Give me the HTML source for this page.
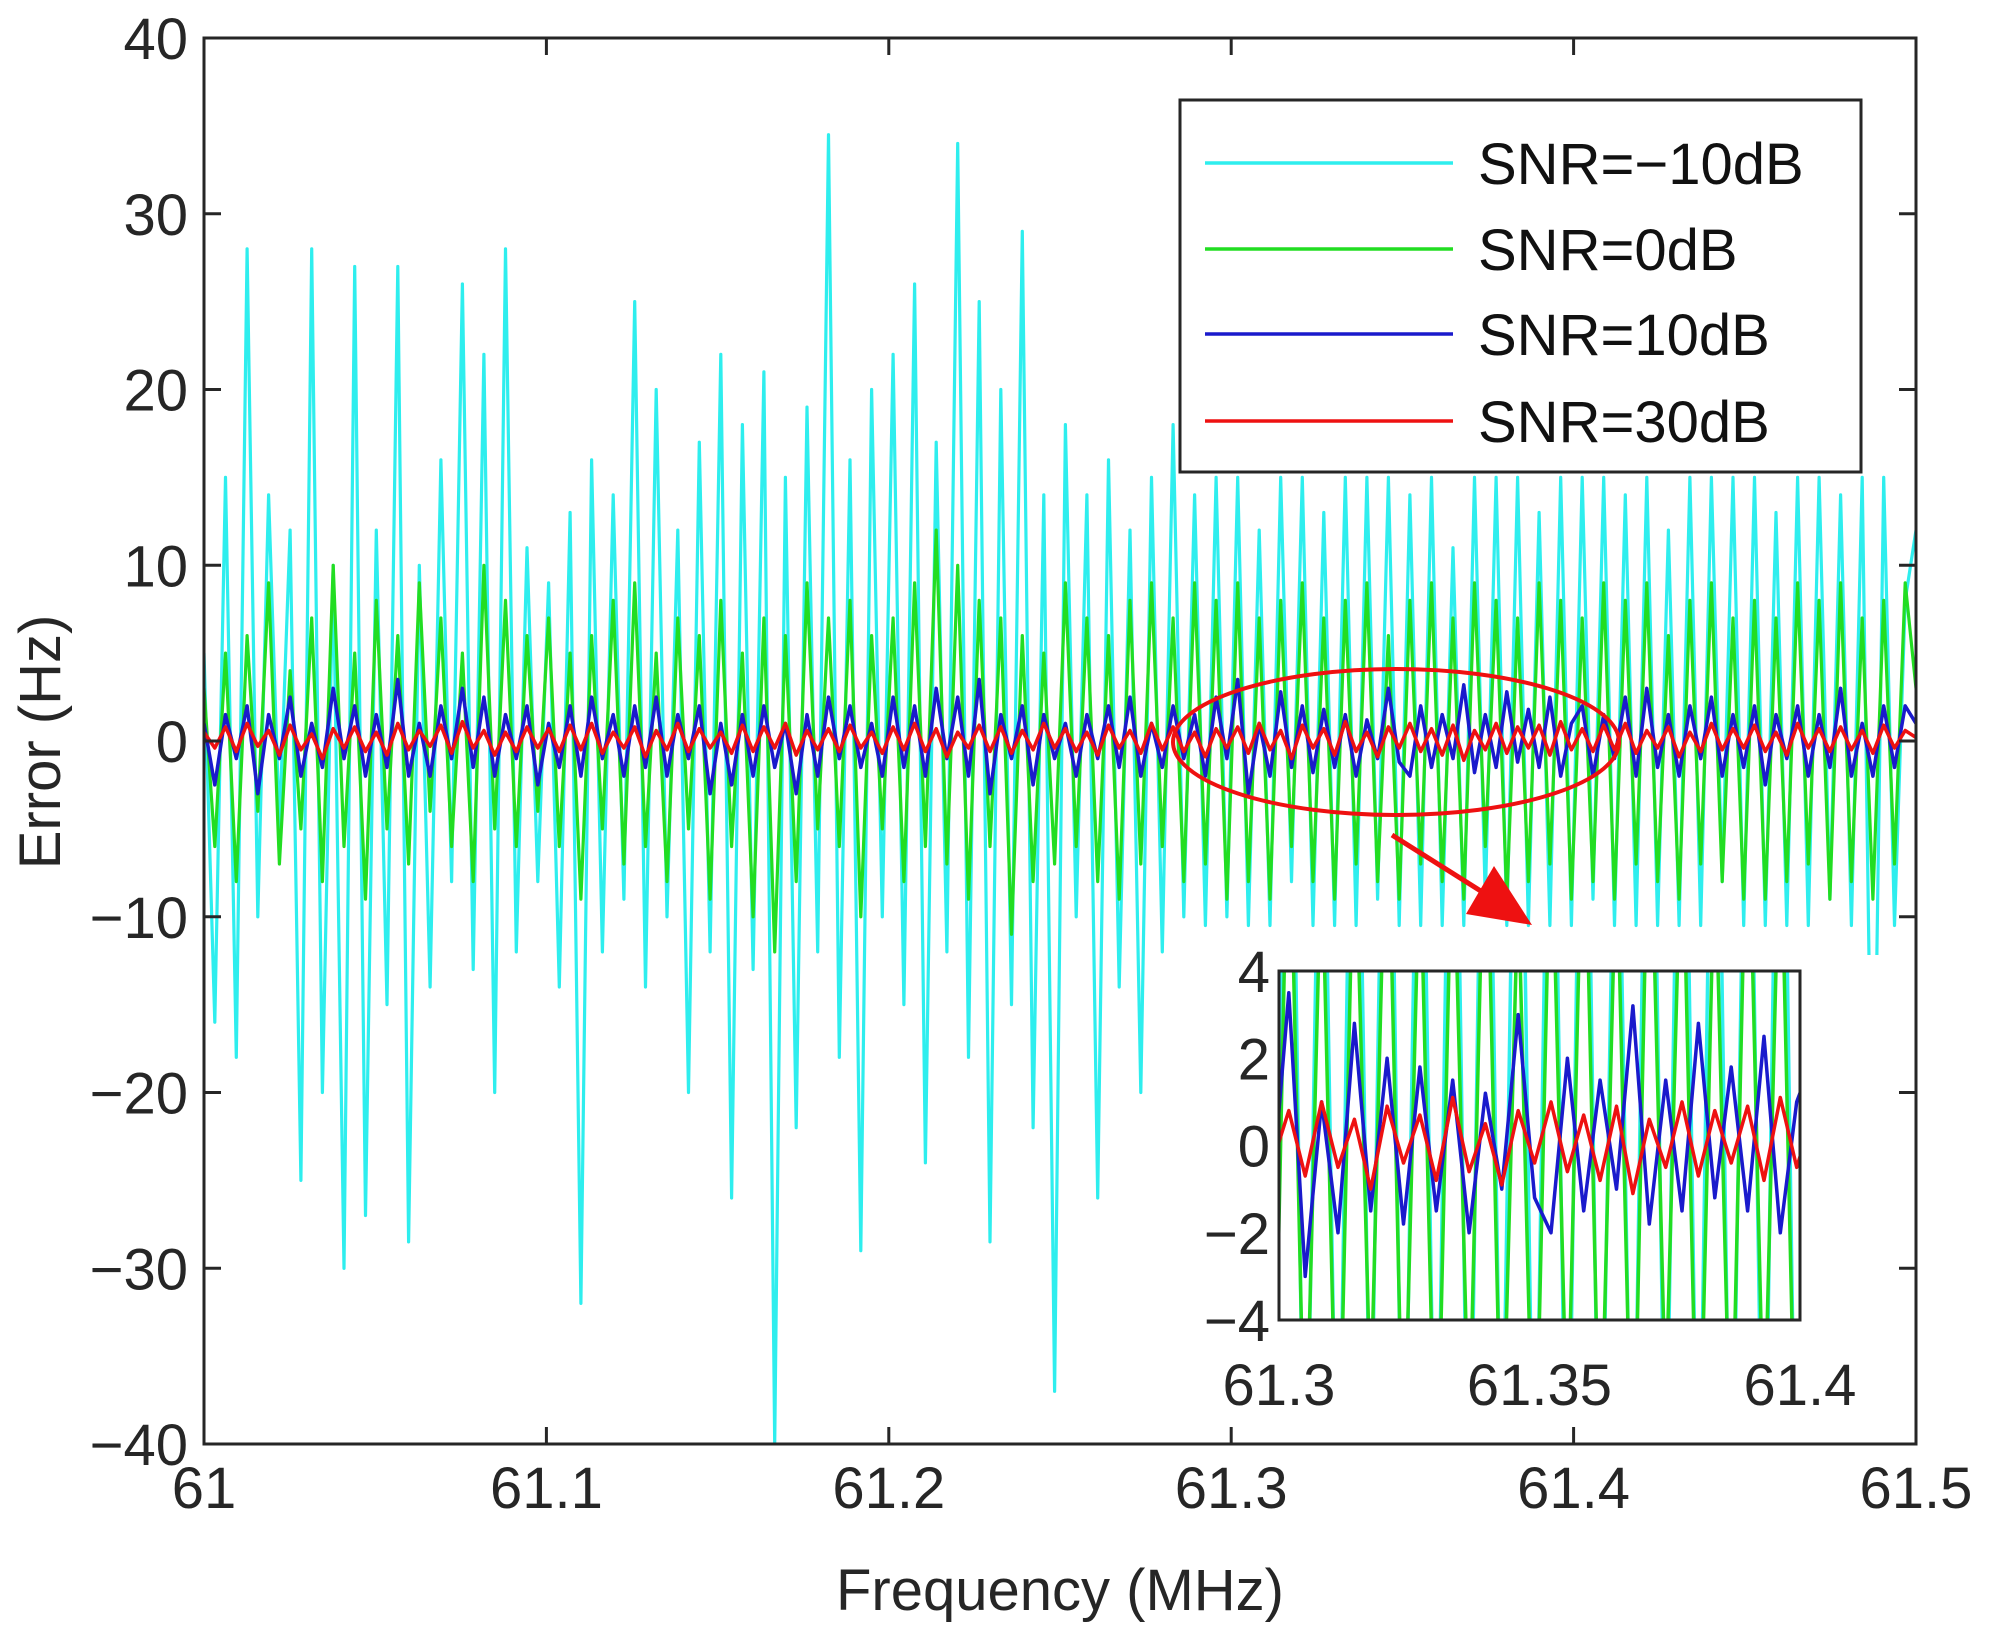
<!DOCTYPE html>
<html><head><meta charset="utf-8">
<style>
html,body{margin:0;padding:0;background:#fff;overflow:hidden;width:1999px;height:1642px;}
svg{display:block;font-family:"Liberation Sans",Arial,sans-serif;}
</style></head>
<body>
<svg id="chart" width="1999" height="1642" viewBox="0 0 1999 1642" xmlns="http://www.w3.org/2000/svg">
<defs>
<clipPath id="mainClip"><rect x="204" y="38" width="1712" height="1406"/></clipPath>
<clipPath id="insetClip"><rect x="1279" y="971" width="521" height="349"/></clipPath>
</defs>
<rect x="0" y="0" width="1999" height="1642" fill="#fff"/>
<g id="mainSeries" clip-path="url(#mainClip)"></g>
<g id="mainAxes"></g>
<g id="legend"></g>
<g id="annot"></g>
<g id="inset"></g>
</svg>
<script>
const categoriesX = [61, 61.5];
const xTickLabels = ["61","61.1","61.2","61.3","61.4","61.5"];
const xTickValues = [61,61.1,61.2,61.3,61.4,61.5];
const yTickValues = [40,30,20,10,0,-10,-20,-30,-40];
const insetXTicks = [61.3,61.35,61.4];
const insetXTickLabels = ["61.3","61.35","61.4"];
const insetYTicks = [4,2,0,-2,-4];
const seriesNames = ["SNR=\u221210dB","SNR=0dB","SNR=10dB","SNR=30dB"];
const seriesColors = ["#2eeeee","#22dd22","#1a1acc","#ee1111"];

const cyanValues = [5,-16,15,-18,28,-10,14,-5,12,-25,28,-20,10,-30,27,-27,
12,-15,27,-28.5,10,-14,16,-8,26,-13,22,-20,28,-12,11,-8,
9,-14,13,-32,16,-12,14,-9,25,-14,20,-10,12,-20,17,-12,
22,-26,18,-13,21,-40,15,-22,19,-12,34.5,-18,16,-29,20,-10,
22,-15,26,-24,17,-12,34,-18,25,-28.5,20,-15,29,-22,14,-37,
18,-10,14,-26,16,-14,12,-20,15,-12,18,-10,14,-10.5,15,-10,
15,-10.5,12,-10.5,15,-8,15,-10.5,13,-10.5,15,-10.5,15,-9,15,-10.5,
14,-10.5,15,-10.5,11,-10.5,15,-9,15,-10.5,15,-10.5,13,-10.5,15,-10.5,
15,-9,15,-10.5,14,-10.5,15,-10.5,12,-10.5,15,-10.5,15,-8,15,-10.5,
15,-10.5,13,-10.5,15,-10.5,15,-9,14,-10.5,15,-28,15,-10.5,8,12];
const greenValues = [3,-6,5,-8,6,-4,9,-7,4,-5,7,-8,10,-6,5,-9,
8,-5,6,-7,9,-4,7,-6,5,-8,10,-5,8,-6,6,-4,
7,-6,5,-9,6,-5,8,-7,9,-6,5,-8,7,-5,6,-9,
8,-6,5,-10,7,-12,6,-8,9,-5,7,-6,8,-10,6,-5,
7,-8,9,-6,12,-7,10,-9,8,-6,7,-11,6,-8,5,-7,
9,-6,7,-8,6,-9,8,-7,9,-6,7,-8,9,-7,8,-9,
9,-8,7,-9,8,-6,9,-8,7,-9,8,-7,9,-8,6,-9,
8,-7,9,-8,7,-9,9,-6,8,-9,7,-8,9,-7,8,-9,
7,-8,9,-9,8,-7,9,-8,6,-9,8,-7,9,-8,7,-9,
8,-9,7,-8,9,-7,8,-9,9,-8,7,-9,8,-7,9,3];
const blueValues = [1,-2.5,1.5,-1,2,-3,1.5,-1,2.5,-2,1,-1.5,3,-1,2,-2,
1.5,-1.5,3.5,-2,1,-2,2,-1,3,-1.5,2.5,-2,1.5,-1,2,-2.5,
1,-1.5,2,-2,2.5,-1,1.5,-2,2,-1.5,2.5,-2,1.5,-1,2,-3,
1,-2.5,1.5,-2,2,-1.5,1,-3,1.5,-2,2.5,-1,2,-1.5,1,-2,
2.5,-1.5,2,-2,3,-1,2.5,-2,3.5,-3,1.5,-1,2,-2.5,1.5,-1,
1,-2,1.5,-1,2,-1.5,2.5,-2,1,-1.5,2,-1,1.5,-2,2.5,-1,
3.5,-3,1,-2,2.8,-1.5,2,-1.8,1.8,-1.5,1.5,-2,1.2,-1,3,-1.2,
-2,2,-1.5,1.5,-1,3.2,-1.8,1.5,-1.5,2.8,-1.2,1.8,-1.5,2.5,-2,1,
2,-2,1.5,-1,2.5,-2,3,-1.5,1.5,-2,2,-1,2.5,-2,1.5,-1.5,
2,-2.5,1.5,-1,2,-2,1.5,-1.5,3,-2,1,-2,2,-1.5,2,1];
const redValues = [0.5,-0.4,0.8,-0.6,1,-0.3,0.6,-0.8,0.9,-0.5,0.4,-1,0.7,-0.4,0.8,-0.6,
0.5,-0.8,1,-0.5,0.6,-0.3,0.9,-0.7,1.1,-0.4,0.6,-0.8,0.5,-0.6,0.8,-0.4,
0.7,-0.6,0.9,-0.5,1,-0.7,0.5,-0.4,0.8,-0.9,0.6,-0.5,1,-0.6,0.7,-0.4,
0.5,-0.7,0.9,-0.6,0.8,-0.4,1,-0.8,0.6,-0.5,0.7,-0.6,0.9,-0.4,0.5,-0.7,
0.8,-0.5,1,-0.6,0.7,-0.9,0.5,-0.4,0.9,-0.6,0.8,-0.7,0.6,-0.5,1,-0.4,
0.7,-0.6,0.5,-0.8,0.9,-0.4,0.6,-0.7,1,-0.5,0.8,-0.6,0.5,-0.9,0.7,-0.4,
0.8,-0.7,1,-0.5,0.6,-1,0.9,-0.4,0.7,-0.8,1.1,-0.6,0.5,-0.9,0.8,-0.4,
1,-0.6,0.7,-0.8,0.9,-1.1,0.6,-0.5,1,-0.7,0.8,-0.4,0.9,-0.8,1.1,-0.5,
0.7,-0.6,0.9,-0.5,1,-0.7,0.6,-0.4,0.8,-0.9,0.5,-0.6,1,-0.5,0.7,-0.4,
0.9,-0.6,0.5,-0.8,1,-0.4,0.7,-0.6,0.8,-0.5,0.6,-0.7,0.9,-0.4,0.6,0.2];
const allSeries = [cyanValues, greenValues, blueValues, redValues];

const NS = "http://www.w3.org/2000/svg";
function mk(tag, parent){ const e=document.createElementNS(NS,tag); parent.appendChild(e); return e; }

const X0=204, X1=1916, Y0=38, Y1=1444;
function sx(v){ return X0+(v-61)/(61.5-61)*(X1-X0); }
function sy(v){ return Y1-(v+40)/80*(Y1-Y0); }
const IX0=1279, IX1=1800, IY0=971, IY1=1320;
function isx(v){ return IX0+(v-61.3)/(0.1)*(IX1-IX0); }
function isy(v){ return IY1-(v+4)/8*(IY1-IY0); }
function xOf(i,n){ return 61+i*(0.5/(n-1)); }

const mainG=document.getElementById('mainSeries');
const names=["series-snr-minus10","series-snr-0","series-snr-10","series-snr-30"];
allSeries.forEach((vals,k)=>{
  const p=mk('polyline',mainG);
  
  
  p.setAttribute('points', vals.map((v,i)=>sx(xOf(i,vals.length)).toFixed(1)+','+sy(v).toFixed(1)).join(' '));
  p.setAttribute('fill','none');
  p.setAttribute('stroke',seriesColors[k]);
  p.setAttribute('stroke-width', k>=2?3.5:3.2);
  p.setAttribute('stroke-linejoin','round');
});

const ax=document.getElementById('mainAxes');
const frame=mk('rect',ax);


frame.setAttribute('x',X0);frame.setAttribute('y',Y0);frame.setAttribute('width',X1-X0);frame.setAttribute('height',Y1-Y0);
frame.setAttribute('fill','none');frame.setAttribute('stroke','#262626');frame.setAttribute('stroke-width',3);
xTickValues.forEach((v,i)=>{
  [[Y1,Y1-17],[Y0,Y0+17]].forEach(([a,b])=>{
    const t=mk('line',ax);
    
    
    t.setAttribute('x1',sx(v));t.setAttribute('x2',sx(v));t.setAttribute('y1',a);t.setAttribute('y2',b);
    t.setAttribute('stroke','#262626');t.setAttribute('stroke-width',3);
  });
  const l=mk('text',ax);
  
  
  l.setAttribute('x',sx(v));l.setAttribute('y',1508);l.setAttribute('text-anchor','middle');
  l.setAttribute('font-size',58);l.setAttribute('fill','#262626');
  l.textContent=xTickLabels[i];
});
yTickValues.forEach(v=>{
  [[X0,X0+17],[X1,X1-17]].forEach(([a,b])=>{
    const t=mk('line',ax);
    
    
    t.setAttribute('x1',a);t.setAttribute('x2',b);t.setAttribute('y1',sy(v));t.setAttribute('y2',sy(v));
    t.setAttribute('stroke','#262626');t.setAttribute('stroke-width',3);
  });
  const l=mk('text',ax);
  
  
  l.setAttribute('x',188);l.setAttribute('y',sy(v)+21);l.setAttribute('text-anchor','end');
  l.setAttribute('font-size',58);l.setAttribute('fill','#262626');
  l.textContent=(v<0?'\u2212'+(-v):String(v));
});
const xt=mk('text',ax);


xt.setAttribute('x',1060);xt.setAttribute('y',1610);xt.setAttribute('text-anchor','middle');
xt.setAttribute('font-size',58);xt.setAttribute('fill','#262626');xt.textContent='Frequency (MHz)';
const yt=mk('text',ax);


yt.setAttribute('transform','translate(60,742) rotate(-90)');yt.setAttribute('text-anchor','middle');
yt.setAttribute('font-size',58);yt.setAttribute('fill','#262626');yt.textContent='Error (Hz)';

const lg=document.getElementById('legend');
const lb=mk('rect',lg);


lb.setAttribute('x',1180);lb.setAttribute('y',100);lb.setAttribute('width',681);lb.setAttribute('height',372);
lb.setAttribute('fill','#fff');lb.setAttribute('stroke','#262626');lb.setAttribute('stroke-width',3);
const legY=[163,249,334,421];
seriesNames.forEach((n,k)=>{
  const ln=mk('line',lg);
  
  
  ln.setAttribute('x1',1205);ln.setAttribute('x2',1453);ln.setAttribute('y1',legY[k]);ln.setAttribute('y2',legY[k]);
  ln.setAttribute('stroke',seriesColors[k]);ln.setAttribute('stroke-width',3.5);
  const tx=mk('text',lg);
  
  
  tx.setAttribute('x',1478);tx.setAttribute('y',legY[k]+21);
  tx.setAttribute('font-size',58);tx.setAttribute('fill','#111');
  tx.textContent=n;
});

const an=document.getElementById('annot');
const el=mk('ellipse',an);


el.setAttribute('cx',1396);el.setAttribute('cy',742);el.setAttribute('rx',223);el.setAttribute('ry',73);
el.setAttribute('fill','none');el.setAttribute('stroke','#ee1111');el.setAttribute('stroke-width',4);
const ar=mk('line',an);


ar.setAttribute('x1',1392);ar.setAttribute('y1',835);ar.setAttribute('x2',1495);ar.setAttribute('y2',900);
ar.setAttribute('stroke','#ee1111');ar.setAttribute('stroke-width',5);
const ah=mk('polygon',an);


ah.setAttribute('points','1532,925 1466,914 1494,866');ah.setAttribute('fill','#ee1111');

const ins=document.getElementById('inset');
const ibg=mk('rect',ins);


ibg.setAttribute('x',1190);ibg.setAttribute('y',955);ibg.setAttribute('width',690);ibg.setAttribute('height',465);ibg.setAttribute('fill','#fff');
const ig=mk('g',ins);
ig.setAttribute('clip-path','url(#insetClip)');


allSeries.forEach((vals,k)=>{
  const p=mk('polyline',ig);
  
  
  p.setAttribute('points', vals.map((v,i)=>isx(xOf(i,vals.length)).toFixed(1)+','+isy(v).toFixed(1)).join(' '));
  p.setAttribute('fill','none');
  p.setAttribute('stroke',seriesColors[k]);
  p.setAttribute('stroke-width', 3.5);
  p.setAttribute('stroke-linejoin','round');
});
const ifr=mk('rect',ins);


ifr.setAttribute('x',IX0);ifr.setAttribute('y',IY0);ifr.setAttribute('width',IX1-IX0);ifr.setAttribute('height',IY1-IY0);
ifr.setAttribute('fill','none');ifr.setAttribute('stroke','#262626');ifr.setAttribute('stroke-width',3);
insetYTicks.forEach(v=>{
  const l=mk('text',ins);
  
  
  l.setAttribute('x',1270);l.setAttribute('y',isy(v)+21);l.setAttribute('text-anchor','end');
  l.setAttribute('font-size',58);l.setAttribute('fill','#262626');
  l.textContent=(v<0?'\u2212'+(-v):String(v));
});
insetXTicks.forEach((v,i)=>{
  const l=mk('text',ins);
  
  
  l.setAttribute('x',isx(v));l.setAttribute('y',1405);l.setAttribute('text-anchor','middle');
  l.setAttribute('font-size',58);l.setAttribute('fill','#262626');
  l.textContent=insetXTickLabels[i];
});
</script>
</body></html>
